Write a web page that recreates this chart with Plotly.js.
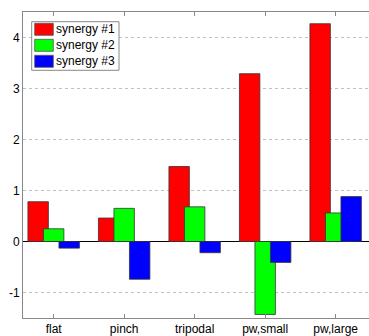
<!DOCTYPE html>
<html><head><meta charset="utf-8">
<script src="https://cdn.plot.ly/plotly-3.0.1.min.js"></script>
<style>html,body{margin:0;padding:0;background:#fff;}#chart{width:369px;height:336px;}</style>
</head><body><div id="chart"></div>
<script>
const categories = ["flat", "pinch", "tripodal", "pw,small", "pw,large"];
const seriesNames = ["synergy #1", "synergy #2", "synergy #3"];
const synergy1 = [0.78, 0.46, 1.47, 3.29, 4.27];
const synergy2 = [0.25, 0.65, 0.68, -1.43, 0.56];
const synergy3 = [-0.13, -0.74, -0.22, -0.41, 0.88];
const colors = ["#ff0000", "#00ff00", "#0000ff"];
const yTicks = [-1, 0, 1, 2, 3, 4];

const values = [synergy1, synergy2, synergy3];
const barW = 0.29, step = 0.22;
const traces = values.map((v, i) => ({
  type: "bar", x: categories, y: v, name: seriesNames[i],
  width: barW, offset: (i - 1) * step - barW / 2,
  marker: {color: colors[i], line: {color: "#333", width: 0.8}}
}));

// plot area in pixels
const L = 23, T = 12, W = 346, H = 306;
const px = X => (X - L) / W;
const py = Y => (T + H - Y) / H;

const shapes = [{type: "rect", xref: "paper", yref: "paper",
  x0: px(31.7), x1: px(119), y0: py(70.3), y1: py(21.7),
  fillcolor: "#fff", line: {color: "#888", width: 1}}];
const annotations = [];
seriesNames.forEach((n, i) => {
  const top = 23.3 + i * 16;
  shapes.push({type: "rect", xref: "paper", yref: "paper",
    x0: px(34.7), x1: px(53.3), y0: py(top + 12), y1: py(top),
    fillcolor: colors[i], line: {color: "#555", width: 0.8}});
  annotations.push({xref: "paper", yref: "paper", x: px(54), y: py(top + 6),
    xanchor: "left", yanchor: "middle", text: n, showarrow: false,
    font: {size: 12, color: "#000"}});
});

const layout = {
  width: 369, height: 336,
  margin: {l: L, r: 0, t: T, b: 336 - T - H},
  paper_bgcolor: "#fff", plot_bgcolor: "#fff",
  barmode: "overlay",
  font: {family: "Liberation Sans, Arial, sans-serif", size: 12, color: "#000"},
  showlegend: false,
  shapes: shapes, annotations: annotations,
  xaxis: {type: "category", range: [-0.435, 4.473], showgrid: false, zeroline: false,
    showline: true, linecolor: "#888", linewidth: 1, mirror: "ticks",
    ticks: "inside", ticklen: 4, tickcolor: "#888", tickfont: {size: 12}},
  yaxis: {range: [-1.5, 4.5], tickvals: yTicks, ticktext: yTicks.map(String),
    showgrid: true, gridcolor: "#c0c0c0",
    griddash: "dot", gridwidth: 1, zeroline: true, zerolinecolor: "#000", zerolinewidth: 1.5,
    showline: true, linecolor: "#888", linewidth: 1, ticks: "", tickfont: {size: 12}}
};
Plotly.newPlot("chart", traces, layout, {displayModeBar: false, staticPlot: true});
</script></body></html>
